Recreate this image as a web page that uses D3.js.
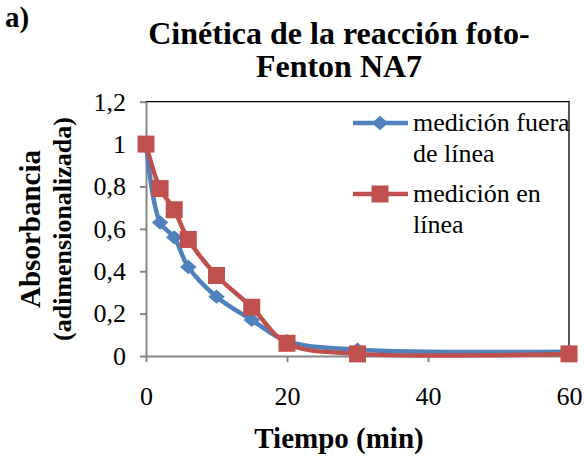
<!DOCTYPE html>
<html><head><meta charset="utf-8">
<script src="https://cdn.jsdelivr.net/npm/d3@7"></script>
</head><body style="margin:0;background:#fff">
<svg id="chart" width="584" height="459" font-family="Liberation Serif" style="display:block"></svg>
<script>
const times = [0, 2, 4, 6, 10, 15, 20, 30, 60];
const offline = [1, 0.63, 0.56, 0.42, 0.28, 0.17, 0.07, 0.03, 0.02];
const online = [1, 0.79, 0.69, 0.55, 0.38, 0.23, 0.06, 0.01, 0.01];
const xTicks = [0, 20, 40, 60];
const yTicks = [0, 0.2, 0.4, 0.6, 0.8, 1, 1.2];
const seriesNames = ["medición fuera de línea", "medición en línea"];
const legendLines = [["medición fuera", "de línea"], ["medición en", "línea"]];
const colors = ["#4F81BD", "#C0504D"];

const FONT = "Liberation Serif";
const svg = d3.select("#chart");
const x = d3.scaleLinear().domain([0, 60]).range([146, 569]);
const y = d3.scaleLinear().domain([0, 1.2]).range([356, 101.7]);

svg.append("path").attr("d", `M${x(0)},${y(1.2)}H${x(60)}V${y(0)}`).attr("fill","none").attr("stroke","#000").attr("stroke-width",1.3);

const gx = svg.append("g").attr("transform", `translate(0,${y(0)})`)
  .call(d3.axisBottom(x).tickValues(xTicks).tickSize(6).tickPadding(25).tickSizeOuter(0));
const gy = svg.append("g").attr("transform", `translate(${x(0)},0)`)
  .call(d3.axisLeft(y).tickValues(yTicks).tickSize(6).tickPadding(14).tickSizeOuter(0)
    .tickFormat(d => d3.format(".1~f")(d).replace(".", ",")));
[gx, gy].forEach(g => {
  g.attr("font-family", FONT).attr("font-size", 26);
  g.selectAll("path, line").attr("stroke", "#868686").attr("stroke-width", 2);
  g.selectAll("text").attr("fill", "#000").attr("font-family", FONT);
});

const data = [offline, online];
const line = d3.line().x((d, i) => x(times[i])).y(d => y(d)).curve(d3.curveCatmullRom.alpha(0.5));
data.forEach((vals, s) => {
  svg.append("path").datum(vals).attr("d", line).attr("fill", "none")
    .attr("stroke", colors[s]).attr("stroke-width", 4.5);
});
const g0 = svg.append("g");
offline.forEach((v, i) => {
  g0.append("path").attr("d", d3.symbol(d3.symbolDiamond2, 130)())
    .attr("transform", `translate(${x(times[i])},${y(v)}) scale(1.15,1)`).attr("fill", colors[0]);
});
const g1 = svg.append("g");
online.forEach((v, i) => {
  g1.append("rect").attr("x", x(times[i]) - 8.5).attr("y", y(v) - 8.5).attr("width", 17).attr("height", 17)
    .attr("fill", colors[1]);
});

const leg = svg.append("g");
const ly = [123, 194];
legendLines.forEach((lines, s) => {
  leg.append("line").attr("x1", 353).attr("x2", 408).attr("y1", ly[s]).attr("y2", ly[s])
    .attr("stroke", colors[s]).attr("stroke-width", 4.5);
  if (s === 0) {
    leg.append("path").attr("d", d3.symbol(d3.symbolDiamond2, 130)())
      .attr("transform", `translate(380,${ly[s]}) scale(1.15,1)`).attr("fill", colors[0]);
  } else {
    leg.append("rect").attr("x", 371.5).attr("y", ly[s] - 8.5).attr("width", 17).attr("height", 17).attr("fill", colors[1]);
  }
  lines.forEach((t, k) => {
    leg.append("text").attr("x", 413).attr("y", ly[s] + 8 + k * 31).attr("font-size", 26)
      .attr("font-family", FONT).text(t);
  });
});

svg.append("text").attr("x", 5).attr("y", 27).attr("font-size", 29).attr("font-weight", "bold")
  .attr("font-family", FONT).text("a)");
const title = svg.append("text").attr("text-anchor", "middle").attr("font-size", 32).attr("font-weight", "bold")
  .attr("font-family", FONT);
title.append("tspan").attr("x", 339).attr("y", 44).text("Cinética de la reacción foto-");
title.append("tspan").attr("x", 339).attr("y", 77).text("Fenton NA7");

svg.append("text").attr("x", 339).attr("y", 448).attr("text-anchor", "middle").attr("font-size", 29)
  .attr("font-weight", "bold").attr("font-family", FONT).text("Tiempo (min)");

const yt = svg.append("g").attr("transform", "translate(0,229) rotate(-90)");
yt.append("text").attr("x", 0).attr("y", 40).attr("text-anchor", "middle").attr("font-size", 29)
  .attr("font-weight", "bold").attr("font-family", FONT).text("Absorbancia");
yt.append("text").attr("x", 0).attr("y", 71).attr("text-anchor", "middle").attr("font-size", 26)
  .attr("font-weight", "bold").attr("font-family", FONT).text("(adimensionalizada)");
</script>
</body></html>
